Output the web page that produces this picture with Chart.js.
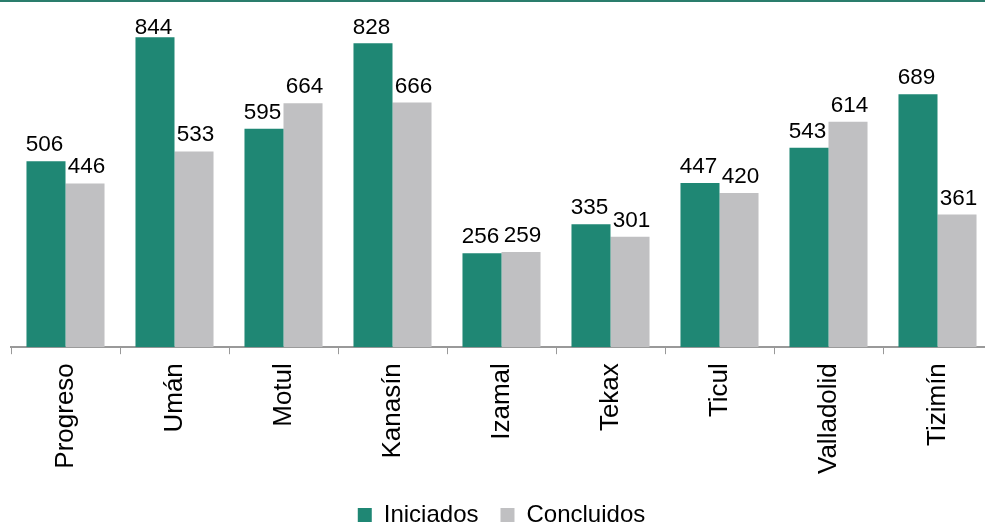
<!DOCTYPE html>
<html lang="es">
<head>
<meta charset="UTF-8">
<title>Iniciados y concluidos</title>
<script src="https://cdn.jsdelivr.net/npm/chart.js@4.4.0/dist/chart.umd.min.js"></script>
<style>
  html, body { margin: 0; padding: 0; background: #fff; overflow: hidden; }
  #wrap { width: 985px; height: 527px; overflow: hidden; }
</style>
</head>
<body>
<div id="wrap"><canvas id="canvas" width="995" height="527" style="width:995px;height:527px"></canvas></div>
<script>
const municipios = ['Progreso', 'Umán', 'Motul', 'Kanasín', 'Izamal', 'Tekax', 'Ticul', 'Valladolid', 'Tizimín'];
const iniciados = [506, 844, 595, 828, 256, 335, 447, 543, 689];
const concluidos = [446, 533, 664, 666, 259, 301, 420, 614, 361];

const FONT = 'Liberation Sans, Arial, Helvetica, sans-serif';
const TEAL = '#1f8774';
const GRIS = '#c0c0c2';

// numbers above each bar, kept below the top rule
const valueLabels = {
  id: 'valueLabels',
  afterDatasetsDraw(chart) {
    const ctx = chart.ctx;
    ctx.save();
    ctx.font = '22.5px ' + FONT;
    ctx.fillStyle = '#000';
    ctx.textAlign = 'center';
    ctx.textBaseline = 'alphabetic';
    chart.data.datasets.forEach((ds, i) => {
      const shift = i === 0 ? -1.5 : 1.5;
      chart.getDatasetMeta(i).data.forEach((bar, j) => {
        ctx.fillText(ds.data[j], bar.x + shift, Math.max(bar.y - 10, 34));
      });
    });
    ctx.restore();
  }
};

// thin rule along the top edge
const topRule = {
  id: 'topRule',
  beforeDraw(chart) {
    const ctx = chart.ctx;
    ctx.save();
    ctx.strokeStyle = '#2a7d6c';
    ctx.lineWidth = 2;
    ctx.beginPath();
    ctx.moveTo(0, 1);
    ctx.lineTo(chart.width, 1);
    ctx.stroke();
    ctx.restore();
  }
};

new Chart(document.getElementById('canvas'), {
  type: 'bar',
  data: {
    labels: municipios,
    datasets: [
      { label: 'Iniciados', data: iniciados, backgroundColor: TEAL },
      { label: 'Concluidos', data: concluidos, backgroundColor: GRIS }
    ]
  },
  options: {
    responsive: false,
    animation: false,
    layout: { padding: { left: 11, right: 3, top: 2, bottom: -10 } },
    categoryPercentage: 0.716,
    barPercentage: 1,
    plugins: {
      tooltip: { enabled: false },
      legend: {
        position: 'bottom',
        labels: {
          font: { family: FONT, size: 24 },
          color: '#000',
          boxWidth: 14,
          boxHeight: 14,
          padding: 22
        }
      }
    },
    scales: {
      x: {
        offset: true,
        grid: { offset: true, drawOnChartArea: false, tickLength: 7, color: '#999' },
        border: { color: '#999', width: 2 },
        ticks: {
          minRotation: 90, maxRotation: 90,
          padding: 9,
          color: '#000',
          font: { family: FONT, size: 26 }
        },
        afterFit(scale) { scale.height -= 2; }
      },
      y: {
        display: false,
        min: 0,
        max: 940
      }
    }
  },
  plugins: [valueLabels, topRule]
});
</script>
</body>
</html>
